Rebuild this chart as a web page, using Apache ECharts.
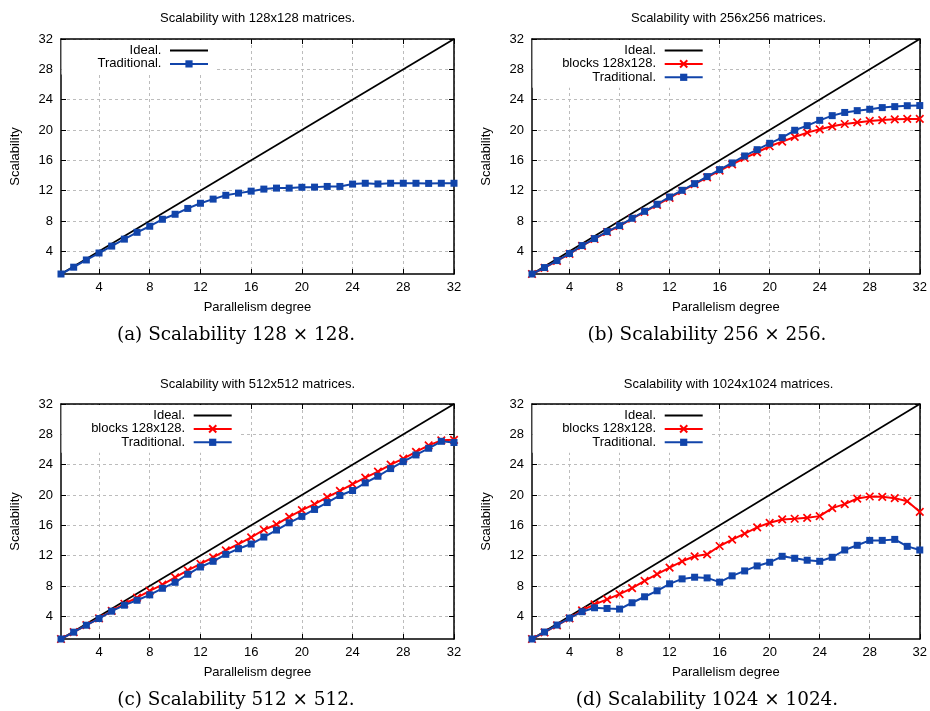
<!DOCTYPE html>
<html><head><meta charset="utf-8">
<script src="https://cdn.jsdelivr.net/npm/echarts@6/dist/echarts.min.js"></script>
<style>html,body{margin:0;padding:0;background:#fff}#c{width:930px;height:711px}</style>
</head><body><div id="c"></div>
<script>
// ---------- data ----------
const degrees = [1,2,3,4,5,6,7,8,9,10,11,12,13,14,15,16,17,18,19,20,21,22,23,24,25,26,27,28,29,30,31,32];
const idealX = [1, 32];
const idealY = [1, 32];
const tickValues = [4, 8, 12, 16, 20, 24, 28, 32];
const panelTitles = [
  'Scalability with 128x128 matrices.',
  'Scalability with 256x256 matrices.',
  'Scalability with 512x512 matrices.',
  'Scalability with 1024x1024 matrices.'
];
const captions = [
  '(a) Scalability 128 \u00d7 128.',
  '(b) Scalability 256 \u00d7 256.',
  '(c) Scalability 512 \u00d7 512.',
  '(d) Scalability 1024 \u00d7 1024.'
];
const nameIdeal = 'Ideal.';
const nameBlocks = 'blocks 128x128.';
const nameTrad = 'Traditional.';
const xAxisName = 'Parallelism degree';
const yAxisName = 'Scalability';

const trad128 = [1.0,1.9,2.85,3.77,4.68,5.6,6.5,7.3,8.22,8.88,9.65,10.33,10.88,11.38,11.67,11.93,12.2,12.33,12.33,12.44,12.46,12.55,12.55,12.86,12.97,12.88,12.97,12.97,12.97,12.95,12.97,12.97];

const trad256 = [1.0,1.85,2.77,3.7,4.75,5.67,6.59,7.38,8.35,9.27,10.2,11.16,12.04,12.92,13.85,14.77,15.65,16.57,17.4,18.24,18.99,19.96,20.57,21.27,21.89,22.31,22.55,22.73,22.95,23.08,23.2,23.22];
const blocks256 = [1.0,1.82,2.74,3.66,4.7,5.62,6.54,7.33,8.3,9.2,10.12,11.05,11.95,12.85,13.75,14.65,15.45,16.3,17.05,17.85,18.46,19.08,19.65,20.09,20.48,20.79,21.0,21.19,21.3,21.4,21.45,21.45];

const trad512 = [1.0,1.9,2.82,3.7,4.67,5.46,6.11,6.82,7.69,8.48,9.54,10.5,11.25,12.17,12.91,13.53,14.45,15.37,16.33,17.17,18.09,19.0,19.93,20.59,21.6,22.47,23.48,24.4,25.28,26.16,27.08,26.92];
const blocks512 = [1.0,1.9,2.84,3.72,4.7,5.65,6.46,7.34,8.18,9.14,10.06,10.9,11.77,12.7,13.53,14.4,15.41,16.11,17.12,18.0,18.79,19.71,20.54,21.42,22.3,23.09,24.0,24.8,25.68,26.55,27.21,27.28];

const trad1024 = [1.0,1.92,2.84,3.76,4.6,5.12,5.03,4.95,5.78,6.57,7.36,8.28,8.93,9.15,9.06,8.5,9.33,9.98,10.64,11.12,11.91,11.65,11.39,11.25,11.78,12.74,13.36,14.01,14.01,14.14,13.22,12.74];
const blocks1024 = [1.0,1.88,2.8,3.72,4.77,5.56,6.22,6.92,7.71,8.67,9.55,10.42,11.25,11.91,12.17,13.27,14.1,14.89,15.72,16.33,16.77,16.86,16.99,17.21,18.26,18.79,19.53,19.8,19.75,19.58,19.18,17.78];

// ---------- layout / style ----------
const FONT = '"Liberation Sans", Arial, sans-serif';
const SERIF = '"DejaVu Serif", serif';
const BLUE = '#1144aa';
const RED = '#ff0000';
const gridLeft = [61, 532, 61, 532];
const gridTop = [39, 39, 404, 404];
const gridW = 393, gridH = 235;
const titlePos = [[257.5, 18], [728.5, 18], [257.5, 384.3], [728.5, 384.3]];
const captionPos = [[236, 335], [707, 335], [236, 700], [707, 700]];
const legendLineEnd = [209, 703.7, 232.7, 703.7];

const panelSeries = [
  {blocks: null, trad: trad128},
  {blocks: blocks256, trad: trad256},
  {blocks: blocks512, trad: trad512},
  {blocks: blocks1024, trad: trad1024}
];

const ctx = document.createElement('canvas').getContext('2d');
ctx.font = '13px ' + FONT;
const tw = s => ctx.measureText(s).width;

const pairs = (xs, ys) => xs.map((x, i) => [x, ys[i]]);

const grids = [], xAxes = [], yAxes = [], series = [], legends = [], graphics = [];
const labelStyle = {fontSize: 13, fontFamily: FONT, color: '#000'};

for (let i = 0; i < 4; i++) {
  grids.push({left: gridLeft[i], top: gridTop[i], width: gridW, height: gridH, containLabel: false});
  const base = (pos, showLabel, showSplit) => ({
    type: 'value', gridIndex: i, min: 1, max: 32, position: pos,
    axisLine: {show: true, onZero: false, lineStyle: {color: '#000', width: 1.5}},
    axisTick: {show: true, inside: true, length: 5, customValues: tickValues, lineStyle: {color: '#000', width: 1}},
    axisLabel: Object.assign({show: showLabel, customValues: tickValues}, labelStyle),
    splitLine: {show: showSplit, lineStyle: {color: '#bcbcbc', type: [3, 3], width: 1}}
  });
  const xb = base('bottom', true, true);
  xb.axisLabel.margin = 7;
  xb.name = xAxisName; xb.nameLocation = 'middle'; xb.nameGap = 27;
  xb.nameTextStyle = {fontSize: 13, fontFamily: FONT, color: '#000'};
  xAxes.push(xb);
  const yb = base('left', true, true);
  yb.axisLabel.margin = 8;
  yb.name = yAxisName; yb.nameLocation = 'middle'; yb.nameGap = 39;
  yb.nameTextStyle = {fontSize: 13, fontFamily: FONT, color: '#000'};
  yAxes.push(yb);
}
for (let i = 0; i < 4; i++) {
  const xt = {
    type: 'value', gridIndex: i, min: 1, max: 32, position: 'top',
    axisLine: {show: true, onZero: false, lineStyle: {color: '#000', width: 1.5}},
    axisTick: {show: true, inside: true, length: 5, customValues: tickValues, lineStyle: {color: '#000', width: 1}},
    axisLabel: {show: false}, splitLine: {show: false}
  };
  xAxes.push(xt);
  const yr = Object.assign({}, xt, {position: 'right'});
  yAxes.push(yr);
}

for (let i = 0; i < 4; i++) {
  const p = panelSeries[i];
  series.push({
    type: 'line', name: nameIdeal, xAxisIndex: i, yAxisIndex: i,
    data: pairs(idealX, idealY), symbol: 'none',
    lineStyle: {color: '#000', width: 1.7}, itemStyle: {color: '#000'}, z: 3
  });
  const names = [nameIdeal];
  if (p.blocks) {
    series.push({
      type: 'line', name: nameBlocks, xAxisIndex: i, yAxisIndex: i,
      data: pairs(degrees, p.blocks),
      symbol: 'path://M0,0L10,10M10,0L0,10', symbolSize: 7.5, showAllSymbol: true,
      lineStyle: {color: RED, width: 2},
      itemStyle: {color: RED, borderColor: RED, borderWidth: 1.7}, z: 4
    });
    names.push(nameBlocks);
  }
  series.push({
    type: 'line', name: nameTrad, xAxisIndex: i, yAxisIndex: i,
    data: pairs(degrees, p.trad),
    symbol: 'rect', symbolSize: 7, showAllSymbol: true,
    lineStyle: {color: BLUE, width: 2},
    itemStyle: {color: BLUE}, z: 5
  });
  names.push(nameTrad);

  const maxW = Math.max(...names.map(n => tw(n + ' ')));
  const boxLeft = gridLeft[i] + 1.5;
  const lineEnd = legendLineEnd[i];
  const padLeft = Math.max(2, (lineEnd - 38 - 5 - maxW) - boxLeft);
  legends.push({
    orient: 'vertical', align: 'right',
    right: 930 - (lineEnd + 8), top: gridTop[i] + 1,
    padding: [4, 8, 4, padLeft],
    itemWidth: 38, itemHeight: 9, itemGap: 0.4,
    backgroundColor: '#fff',
    data: names.map(n => n === nameIdeal
      ? {name: n, itemStyle: {color: 'rgba(0,0,0,0)', borderWidth: 0, opacity: 0}}
      : {name: n}),
    formatter: n => n + ' ',
    selectedMode: false,
    textStyle: {fontSize: 13, fontFamily: FONT, color: '#000'}
  });

  graphics.push({
    type: 'text', x: titlePos[i][0], y: titlePos[i][1], z: 10,
    style: {text: panelTitles[i], fontSize: 13, fontFamily: FONT, fill: '#000', align: 'center', verticalAlign: 'middle'}
  });
  graphics.push({
    type: 'text', x: captionPos[i][0], y: captionPos[i][1], z: 10,
    style: {text: captions[i], fontSize: 18.4, fontFamily: SERIF, fill: '#000', align: 'center', verticalAlign: 'middle'}
  });
}

const chart = echarts.init(document.getElementById('c'), null, {renderer: 'canvas'});
chart.setOption({
  animation: false,
  backgroundColor: '#fff',
  grid: grids, xAxis: xAxes, yAxis: yAxes,
  legend: legends, series: series, graphic: graphics
});
</script></body></html>
